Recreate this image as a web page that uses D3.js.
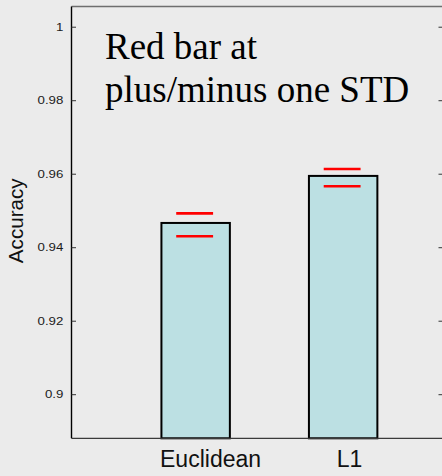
<!DOCTYPE html>
<html>
<head>
<meta charset="utf-8">
<script src="https://cdn.jsdelivr.net/npm/d3@7/dist/d3.min.js"></script>
<style>
  html, body { margin: 0; padding: 0; background: #ebebeb; }
  svg { display: block; }
</style>
</head>
<body>
<svg id="chart" width="442" height="476"></svg>
<script>
// ---- data ----
const categories = ["Euclidean", "L1"];
const accuracy = [0.9466, 0.9594];
const stdUpper = [0.9492, 0.9613];
const stdLower = [0.9430, 0.9566];
const yTicks = [0.9, 0.92, 0.94, 0.96, 0.98, 1];
const yTickLabels = ["0.9", "0.92", "0.94", "0.96", "0.98", "1"];
const yLabel = "Accuracy";
const noteLines = ["Red bar at", "plus/minus one STD"];

// ---- layout ----
const W = 442, H = 476;
const mLeft = 71.5, mRight = 443, mTop = 6.5, mBottom = 438.3;
const svg = d3.select("#chart");

svg.append("rect").attr("width", W).attr("height", H).attr("fill", "#ebebeb");

const y = d3.scaleLinear().domain([0.888, 1.0055]).range([mBottom, mTop]);
// category index -> bar centre
const x = d3.scaleLinear().domain([0, 1]).range([195.65, 343.15]);
const step = x(1) - x(0);
const barW = step * 0.464;
const errW = step * 0.25;

// bars
svg.selectAll("rect.bar").data(categories).join("rect")
  .attr("class", "bar")
  .attr("x", (d, i) => x(i) - barW / 2)
  .attr("y", (d, i) => y(accuracy[i]))
  .attr("width", barW)
  .attr("height", (d, i) => mBottom - y(accuracy[i]))
  .attr("fill", "#bce0e3")
  .attr("stroke", "#000")
  .attr("stroke-width", 2);

// std lines
const errData = [];
categories.forEach((c, i) => {
  errData.push({ i, v: stdUpper[i] });
  errData.push({ i, v: stdLower[i] });
});
svg.selectAll("line.err").data(errData).join("line")
  .attr("class", "err")
  .attr("x1", d => x(d.i) - errW / 2 - 1)
  .attr("x2", d => x(d.i) + errW / 2 - 1)
  .attr("y1", d => y(d.v))
  .attr("y2", d => y(d.v))
  .attr("stroke", "#ff0000")
  .attr("stroke-width", 2.6);

// frame: top and bottom lines
svg.append("line").attr("x1", mLeft).attr("x2", W).attr("y1", mTop).attr("y2", mTop)
  .attr("stroke", "#6e6e6e").attr("stroke-width", 1.3);
svg.append("line").attr("x1", mLeft).attr("x2", W).attr("y1", mBottom).attr("y2", mBottom)
  .attr("stroke", "#3a3a3a").attr("stroke-width", 1.3);

// left axis
const sx = 1.25;
const yAxis = d3.axisLeft(y).tickValues(yTicks)
  .tickFormat((d, i) => yTickLabels[i])
  .tickSizeInner(-4.5).tickSizeOuter(0).tickPadding(8);
const gy = svg.append("g").attr("transform", `translate(${mLeft},0)`).call(yAxis);
gy.select(".domain").attr("stroke", "#000").attr("stroke-width", 1.4)
  .attr("d", `M0,${mTop}V${mBottom}`);
gy.selectAll(".tick line").attr("stroke", "#333").attr("stroke-width", 1);
gy.selectAll(".tick text")
  .attr("x", -8.2 / sx)
  .attr("dy", "0.35em")
  .attr("transform", `scale(${sx},1)`)
  .attr("fill", "#1a1a1a")
  .style("font-family", "'Liberation Sans', Arial, sans-serif")
  .style("font-size", "10.6px");

// right axis ticks (axis line itself lies just past the window edge)
const yAxisR = d3.axisRight(y).tickValues(yTicks).tickFormat("")
  .tickSizeInner(-4.5).tickSizeOuter(0);
const gr = svg.append("g").attr("transform", `translate(${mRight},0)`).call(yAxisR);
gr.select(".domain").attr("stroke", "#000");
gr.selectAll(".tick line").attr("stroke", "#333").attr("stroke-width", 1);

// category labels
const labelDx = [14.9, 6.3];
svg.selectAll("text.cat").data(categories).join("text")
  .attr("class", "cat")
  .attr("x", (d, i) => x(i) + labelDx[i])
  .attr("y", 466.5)
  .attr("text-anchor", "middle")
  .attr("fill", "#111")
  .style("font-family", "'Liberation Sans', Arial, sans-serif")
  .style("font-size", "23px")
  .text(d => d);

// y label
svg.append("text")
  .attr("transform", "translate(23.3,220.8) rotate(-90)")
  .attr("text-anchor", "middle")
  .attr("fill", "#111")
  .style("font-family", "'Liberation Sans', Arial, sans-serif")
  .style("font-size", "20.6px")
  .text(yLabel);

// annotation
svg.selectAll("text.note").data(noteLines).join("text")
  .attr("class", "note")
  .attr("x", 105)
  .attr("y", (d, i) => 59.3 + i * 42.4)
  .attr("fill", "#000")
  .style("font-family", "'Liberation Serif', 'Times New Roman', serif")
  .style("font-size", "37px")
  .text(d => d);
</script>
</body>
</html>
